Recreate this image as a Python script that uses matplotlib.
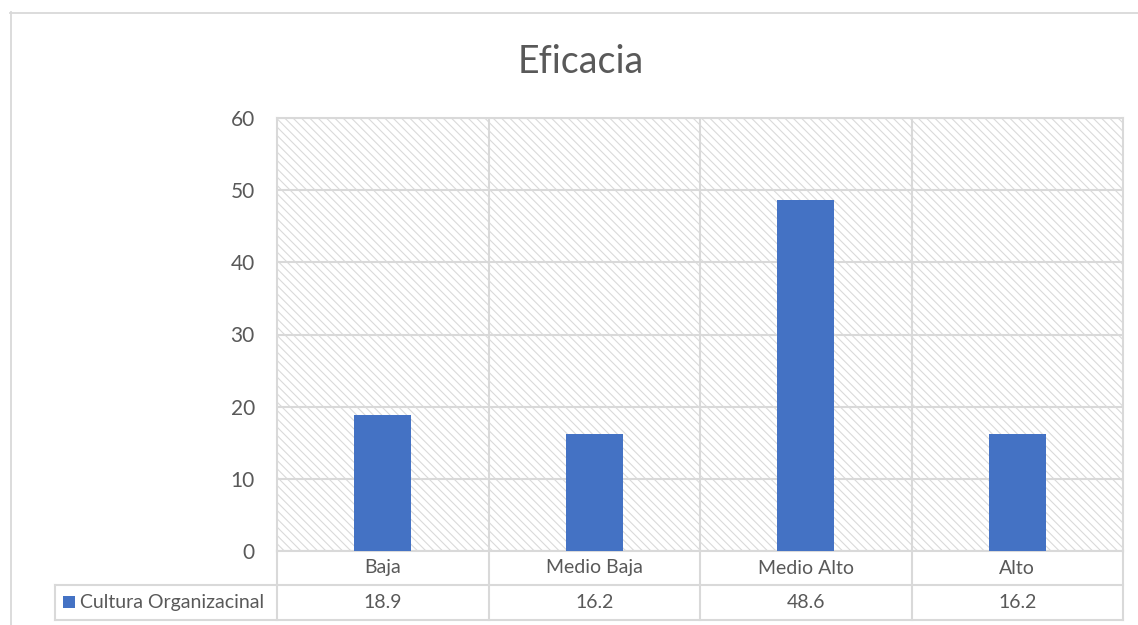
import matplotlib
matplotlib.use("Agg")
import matplotlib.pyplot as plt
from matplotlib.patches import Rectangle
from matplotlib.lines import Line2D

categories = ["Baja", "Medio Baja", "Medio Alto", "Alto"]
values = [18.9, 16.2, 48.6, 16.2]
value_labels = ["18.9", "16.2", "48.6", "16.2"]
series_name = "Cultura Organizacinal"
title = "Eficacia"
yticks = [0, 10, 20, 30, 40, 50, 60]

plt.rcParams['font.family'] = ['Lato', 'DejaVu Sans']
plt.rcParams['hatch.linewidth'] = 0.8
plt.rcParams['hatch.color'] = '#dadada'

W, H = 1138, 625
fig = plt.figure(figsize=(W / 100, H / 100), dpi=100)
fig.patch.set_facecolor('white')

def fx(px):
    return px / W

def fy(py):
    return 1 - py / H

TXT = '#595959'
GRID = '#d9d9d9'
BAR = '#4472C4'

# chart-area border (top and left visible)
fig.add_artist(Line2D([fx(10), fx(W)], [fy(12.5), fy(12.5)], color=GRID, lw=1.3))
fig.add_artist(Line2D([fx(10.5), fx(10.5)], [fy(12), fy(H)], color=GRID, lw=1.3))

x0, x1, ytop, ybot = 277, 1123, 118, 551
ax = fig.add_axes([fx(x0), fy(ybot), fx(x1 - x0), (ybot - ytop) / H])
ax.set_facecolor('white')
ax.add_patch(Rectangle((0, 0), 1, 1, transform=ax.transAxes, facecolor='white',
                       edgecolor='#dadada', hatch='\\\\\\\\', lw=0, zorder=0))

n = len(categories)
xs = list(range(n))
ax.bar(xs, values, width=0.27, color=BAR, zorder=3)
ax.set_xlim(-0.5, n - 0.5)
ax.set_ylim(0, 60)
ax.set_yticks(yticks)
ax.set_yticklabels([str(t) for t in yticks], fontsize=15, color=TXT)
ax.tick_params(axis='y', length=0, pad=16)
ax.set_xticks([])
for y in yticks:
    ax.axhline(y, color=GRID, lw=1.5, zorder=1)
for i in range(1, n):
    ax.axvline(i - 0.5, color=GRID, lw=1.5, zorder=1)
for s in ax.spines.values():
    s.set_color(GRID)
    s.set_linewidth(1.5)

# data table
r1, r2, r3 = 551, 585, 620
lx = 55
tcol = GRID
fig.add_artist(Line2D([fx(lx), fx(x1)], [fy(r2), fy(r2)], color=tcol, lw=1.5))
fig.add_artist(Line2D([fx(lx), fx(x1)], [fy(r3), fy(r3)], color=tcol, lw=1.5))
fig.add_artist(Line2D([fx(lx), fx(lx)], [fy(r2), fy(r3)], color=tcol, lw=1.5))
colw = (x1 - x0) / n
for i in range(n + 1):
    xv = x0 + i * colw
    fig.add_artist(Line2D([fx(xv), fx(xv)], [fy(r1), fy(r3)], color=tcol, lw=1.5))
for i, (c, v) in enumerate(zip(categories, value_labels)):
    cx = x0 + (i + 0.5) * colw
    fig.text(fx(cx), fy((r1 + r2) / 2), c, ha='center', va='center', fontsize=14, color=TXT)
    fig.text(fx(cx), fy((r2 + r3) / 2), v, ha='center', va='center', fontsize=14, color=TXT)
# legend key
fig.add_artist(Rectangle((fx(63), fy(608)), fx(12), 12 / H, facecolor=BAR, edgecolor='none'))
fig.text(fx(80), fy((r2 + r3) / 2), series_name, ha='left', va='center', fontsize=14, color=TXT)

fig.text(fx(581), fy(62), title, ha='center', va='center', fontsize=27, color=TXT)

fig.savefig('out.png', dpi=100)
